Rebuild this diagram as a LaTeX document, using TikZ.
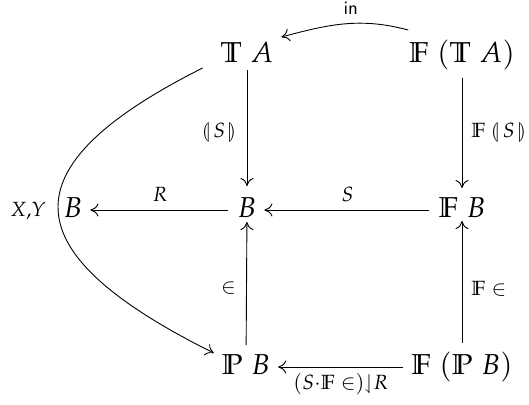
\documentclass[tikz,border=0pt]{standalone}
\usepackage{mathpazo}
\usepackage{amssymb}
\usepackage{stmaryrd}
\usetikzlibrary{arrows.meta}
\tikzset{
  obj/.style={inner sep=0pt, outer sep=0pt, anchor=base, text height=10pt, text depth=3pt, font=\fontsize{14.4}{17}\selectfont},
  lbl/.style={inner sep=0pt, font=\fontsize{10.3}{12}\selectfont},
  arr/.style={-{To[length=4pt,width=6.5pt]}, line width=0.45pt},
}
\begin{document}
\begin{tikzpicture}[x=0.5pt,y=-0.5pt]
\useasboundingbox (0,0) rectangle (529,404);
% objects (baselines)
\node[obj] (TA)  at (247,62)  {$\mathbb{T}\;A$};
\node[obj] (FTA) at (462,62)  {$\mathbb{F}\;(\mathbb{T}\;A)$};
\node[obj] (Bl)  at (73,217)  {$B$};
\node[obj] (B)   at (247,217) {$B$};
\node[obj] (FB)  at (462,217) {$\mathbb{F}\;B$};
\node[obj] (PB)  at (246,374) {$\mathbb{P}\;B$};
\node[obj] (FPB) at (462,374) {$\mathbb{F}\;(\mathbb{P}\;B)$};
% arrows
\draw[arr] ([shift={(-1,-12)}]FTA.north west) to[out=165,in=15]
  node[lbl, pos=0.45, above=4pt] (lin) {\fontsize{9.5}{11}\selectfont\sffamily in}
  ([shift={(8,-5)}]TA.north east);
\draw[arr, shorten <=1pt, shorten >=5.5pt] (TA) -- node[lbl, left=5pt] (lfold) {$\llparenthesis\, S\,\rrparenthesis$} (B);
\draw[arr, shorten <=5pt, shorten >=4.5pt] (FTA) -- node[lbl, right=4.5pt] (lFfold) {$\mathbb{F}\;\llparenthesis\, S\,\rrparenthesis$} (FB);
\draw[arr, shorten <=5pt, shorten >=4pt] (FB) -- node[lbl, above=4pt] (lS) {$S$} (B);
\draw[arr, shorten <=5pt, shorten >=4pt] (B) -- node[lbl, above=4pt] (lR) {$R$} (Bl);
\draw[arr, shorten <=4.5pt, shorten >=-0.5pt] (PB) -- node[lbl, left=5pt] (lin1) {$\in$} (B);
\draw[arr, shorten <=5.5pt, shorten >=-1pt] (FPB) -- node[lbl, right=4.5pt] (lin2) {$\mathbb{F}\in$} (FB);
\draw[arr, shorten <=4pt, shorten >=4pt] (FPB) -- node[lbl, below=3pt] (lbot) {$(S{\cdot}\mathbb{F}\in){\downharpoonleft}R$} (PB);
\draw[arr] ([xshift=-9]TA.south west) .. controls +(-199,100) and +(-201,-100) ..
  node[lbl, pos=0.5, left=6pt] (lXY) {$X{,}Y$}
  ([shift={(-8,-1)}]PB.north west);
\end{tikzpicture}
\end{document}
